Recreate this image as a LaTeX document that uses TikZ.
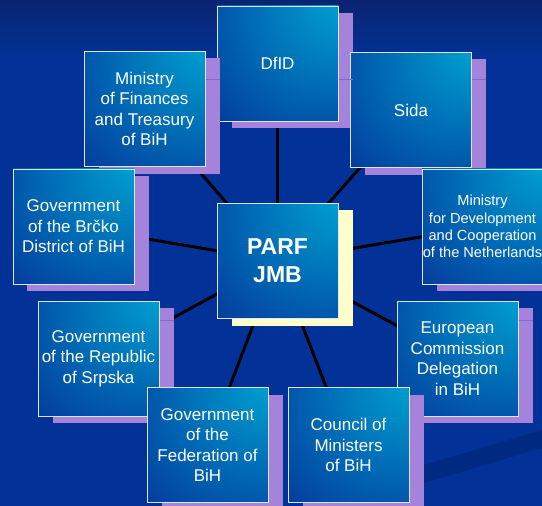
\documentclass[tikz,border=0pt]{standalone}
\usepackage{fontspec}
\setmainfont{Liberation Sans}
\usetikzlibrary{shadows}
\pgfdeclarelayer{bg}
\pgfdeclarelayer{lines}
\pgfsetlayers{bg,lines,main}
\definecolor{bgtop}{RGB}{10,36,112}
\definecolor{bgmain}{RGB}{2,50,152}
\definecolor{bgband}{RGB}{0,42,130}
\definecolor{bcyan}{RGB}{0,155,205}
\definecolor{bmid}{RGB}{0,100,178}
\definecolor{bdark}{RGB}{6,48,150}
\definecolor{shpurple}{RGB}{166,131,218}
\definecolor{shlinec}{RGB}{125,105,200}
\definecolor{shyellow}{RGB}{255,255,204}
\definecolor{bord}{RGB}{220,230,240}
\pgfdeclareradialshading{boxshade}{\pgfpoint{32bp}{32bp}}{color(0bp)=(bcyan); color(8bp)=(bcyan); color(36bp)=(bmid); color(62bp)=(bdark); color(100bp)=(bdark)}
\tikzset{
  box/.style={shading=boxshade, draw=bord, line width=0.9bp,
    minimum width=121bp, minimum height=115bp, inner sep=0pt,
    text=white, align=center, font=\fontsize{17bp}{20.5bp}\selectfont},
  pshadow/.style={general shadow={fill=shpurple, shadow xshift=14.5bp, shadow yshift=-7bp}},
  yshadow/.style={general shadow={fill=shyellow, shadow xshift=14.5bp, shadow yshift=-7bp}},
  smalltext/.style={font=\fontsize{14.6bp}{17.3bp}\selectfont},
  bigtext/.style={font=\fontsize{23bp}{28bp}\selectfont\bfseries},
  spoke/.style={line width=3bp, black},
  shl/.style={line width=1bp, shlinec}
}
\begin{document}
\begin{tikzpicture}[x=1bp,y=-1bp]
\useasboundingbox (0,0) rectangle (542,506);
\begin{pgfonlayer}{bg}
  \fill[bgmain] (0,0) rectangle (542,506);
  \shade[top color=bgtop, bottom color=bgmain] (0,0) rectangle (542,60);
  \fill[bgband] (400,472) -- (542,430) -- (542,448) -- (400,490) -- cycle;
\end{pgfonlayer}

\node[box, pshadow] (dfid)   at (277.5,63.5) {DfID};
\node[box, pshadow] (minfin) at (144.5,109) {Ministry\\of Finances\\and Treasury\\of BiH};
\node[box, pshadow] (sida)   at (411,110) {Sida};
\node[box, pshadow] (brcko)  at (73.5,226.5) {Government\\of the Brčko\\District of BiH};
\node[box, pshadow, smalltext] (mindev) at (482.5,226.5) {Ministry\\for Development\\and Cooperation\\of the Netherlands};
\node[box, yshadow, bigtext] (parf) at (277.5,261) {PARF\\JMB};
\node[box, pshadow] (srpska) at (98.5,358.5) {Government\\of the Republic\\of Srpska};
\node[box, pshadow] (ec)     at (457.5,358.5) {European\\Commission\\Delegation\\in BiH};
\node[box, pshadow] (fed)    at (207.5,445) {Government\\of the\\Federation of\\BiH};
\node[box, pshadow] (council) at (348.5,445) {Council of\\Ministers\\of BiH};

\begin{pgfonlayer}{lines}
  \foreach \n in {dfid,minfin,sida,brcko,mindev,srpska,ec,fed,council}
    \draw[spoke] (parf.center) -- (\n.center);
\end{pgfonlayer}

\draw[shl] ([xshift=0.5bp]minfin.east |- 0,80) -- ++(14,0);
\draw[shl] ([xshift=0.5bp]dfid.east |- 0,80) -- ++(14,0);
\draw[shl] ([xshift=0.5bp]sida.east |- 0,80) -- ++(14,0);
\draw[shl] ([xshift=0.5bp]srpska.east |- 0,320) -- ++(14,0);
\draw[shl] ([xshift=0.5bp]ec.east |- 0,320) -- ++(14,0);
\end{tikzpicture}
\end{document}
